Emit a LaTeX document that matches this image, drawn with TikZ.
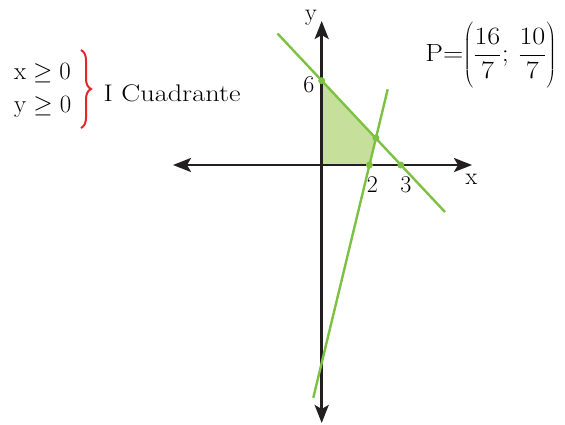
\documentclass[tikz,border=0pt]{standalone}
\usetikzlibrary{arrows.meta,decorations.pathreplacing}
\definecolor{lgreen}{HTML}{7CC142}
\definecolor{fgreen}{HTML}{C6E09C}
\definecolor{bred}{HTML}{E3262A}
\definecolor{axblack}{HTML}{231F20}
\begin{document}
\begin{tikzpicture}[x=1pt,y=-1pt,
  axis/.style={line width=2.6pt,draw=axblack,{Stealth[length=18pt,width=14pt,inset=4pt]}-{Stealth[length=18pt,width=14pt,inset=4pt]}},
  gline/.style={line width=2.4pt,draw=lgreen},
  gdot/.style={circle,fill=lgreen,inner sep=0pt,minimum size=7pt},
  lbl/.style={font=\fontsize{24}{28}\selectfont,inner sep=0pt,anchor=base}]
\useasboundingbox (0,0) rectangle (565,424);
% key points
\coordinate (O) at (321.7,165);
\coordinate (A) at (321.7,80.7);
\coordinate (P) at (375.9,137.9);
\coordinate (B) at (369.4,165);
\coordinate (C) at (400.8,165);
% feasible region
\fill[fgreen] (O) -- (A) -- (P) -- (B) -- cycle;
% axes
\coordinate (xl) at (173,165);
\coordinate (xr) at (472,165);
\coordinate (yt) at (321.7,21);
\coordinate (yb) at (321.7,423);
\draw[axis] (xl) -- (xr);
\draw[axis] (yb) -- (yt);
% lines
\coordinate (l1a) at (277.5,33.5);
\coordinate (l1b) at (445,212);
\coordinate (l2a) at (387.7,89.3);
\coordinate (l2b) at (313.3,397.7);
\draw[gline] (l1a) -- (l1b);
\draw[gline] (l2a) -- (l2b);
\node[gdot] (dA) at (A) {};
\node[gdot] (dP) at (P) {};
\node[gdot] (dB) at (B) {};
\node[gdot] (dC) at (C) {};
% axis labels
\node[lbl] (lx) at (471.5,184) {x};
\node[lbl] (ly) at (311,20) {y};
\node[lbl] (l6) at (309,92) {6};
\node[lbl] (l2) at (372.5,192) {2};
\node[lbl] (l3) at (406,192) {3};
% conditions
\node[lbl,anchor=base west] (c1) at (14,79.3) {$\mathrm{x}\geq 0$};
\node[lbl,anchor=base west] (c2) at (14,112.7) {$\mathrm{y}\geq 0$};
\coordinate (bt) at (81,50);
\coordinate (bb) at (81,128);
\draw[bred,line width=2pt,decorate,decoration={brace,amplitude=10pt}] (bt) -- (bb);
\node[lbl,anchor=base west,xscale=1.18,transform shape] (quad) at (103.3,101.7) {I Cuadrante};
% point P
\node[font=\fontsize{25}{29}\selectfont,inner sep=0pt,xscale=1.13,transform shape] (ptxt) at (491,55) {$\mathrm{P}{=}\!\left(\vrule height 39pt depth 27pt width 0pt{\displaystyle\frac{16}{7}};\,{\displaystyle\frac{10}{7}}\right)$};
\end{tikzpicture}
\end{document}
